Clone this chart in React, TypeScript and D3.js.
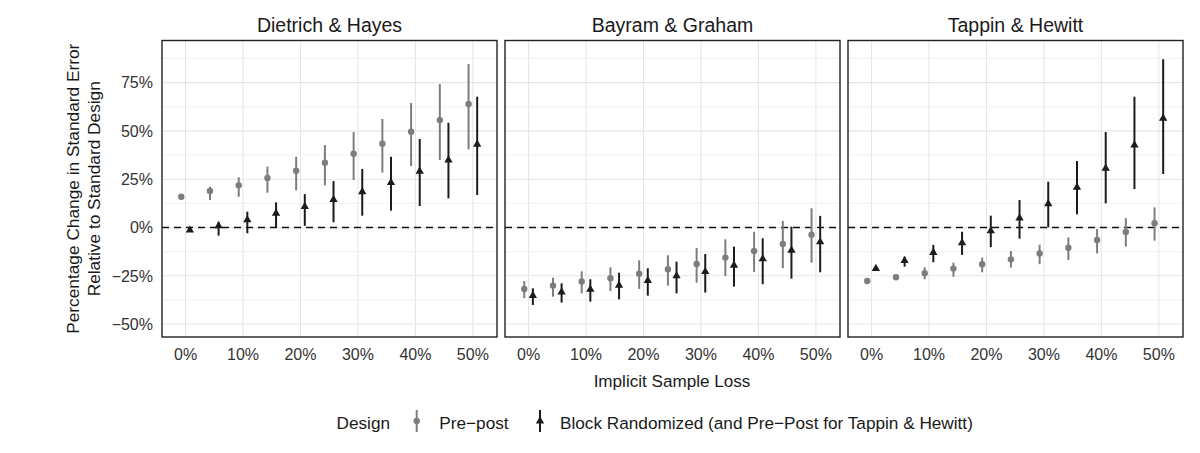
import * as d3 from "d3";

// Implicit sample loss (%), shared by all panels
const losses = [0, 5, 10, 15, 20, 25, 30, 35, 40, 45, 50];
const studies = ["Dietrich & Hayes", "Bayram & Graham", "Tappin & Hewitt"];

// Pre-post design: estimate, lower, upper
const dhPre = [15.9, 18.9, 21.8, 25.6, 29.4, 33.5, 38.2, 43.4, 49.6, 55.6, 63.9];
const dhPreLo = [15.5, 14.2, 15.9, 18, 19.2, 21.8, 24.6, 28.4, 31.8, 34.9, 40.5];
const dhPreHi = [16.3, 21.1, 26, 31.5, 36.6, 42.7, 49.4, 56.2, 64.4, 74.3, 84.6];
const bgPre = [-31.8, -30.1, -28, -26.3, -23.9, -21.6, -18.9, -15.6, -12.2, -8.5, -3.7];
const bgPreLo = [-36.6, -35.8, -34.1, -32.9, -31.8, -30.1, -28.6, -25.1, -23, -21.1, -18.2];
const bgPreHi = [-27.7, -26, -22.7, -20.6, -17, -14.4, -10.6, -6.1, -2.2, 3.4, 9.9];
const thPre = [-27.7, -25.8, -23.7, -21.3, -19, -16.5, -13.4, -10.5, -6.5, -2.3, 2.2];
const thPreLo = [-28.2, -27, -26.8, -25.5, -23.2, -20.8, -19, -16.8, -13.4, -9.9, -6.8];
const thPreHi = [-27.2, -24.5, -20.6, -18.2, -15.6, -12.2, -8.9, -5.1, -0.8, 4.8, 10.4];

// Block randomized design: estimate, lower, upper
const dhBlock = [-1.4, 0.8, 3.9, 7.3, 10.8, 14.4, 18.5, 23.2, 29.1, 34.9, 43];
const dhBlockLo = [-1.8, -4.2, -3, 0.1, 0.8, 2.7, 6.1, 8.7, 11.1, 15.1, 16.8];
const dhBlockHi = [-1.0, 3, 8.2, 13, 17.3, 24, 30.3, 36.6, 45.8, 54.2, 67.7];
const bgBlock = [-35.3, -33.4, -32, -29.9, -27.5, -25.1, -22.9, -19.6, -16.3, -11.8, -7.5];
const bgBlockLo = [-40.1, -38.9, -38.4, -37.2, -35.3, -34.1, -33.7, -30.6, -29.4, -26.5, -23.2];
const bgBlockHi = [-31.5, -28.9, -26.8, -23.4, -21.1, -17.7, -13.7, -9.9, -5.6, 0.4, 6];
const thBlock = [-21.3, -17.2, -13, -7.9, -1.8, 4.8, 12.2, 20.8, 30.6, 42.7, 56.5];
const thBlockLo = [-21.6, -20.3, -18, -14.2, -10.2, -5.8, 0.1, 6.8, 12.5, 19.9, 27.7];
const thBlockHi = [-21, -15.1, -9, -2.2, 6.1, 14.2, 23.7, 34.4, 49.4, 67.7, 87.1];

const yTicks = [-50, -25, 0, 25, 50, 75];
const yMinor = [-37.5, -12.5, 12.5, 37.5, 62.5, 87.5];
const xTicks = [0, 10, 20, 30, 40, 50];

const panels = [
  { pre: [dhPre, dhPreLo, dhPreHi], block: [dhBlock, dhBlockLo, dhBlockHi] },
  { pre: [bgPre, bgPreLo, bgPreHi], block: [bgBlock, bgBlockLo, bgBlockHi] },
  { pre: [thPre, thPreLo, thPreHi], block: [thBlock, thBlockLo, thBlockHi] },
];

const FONT = "'Liberation Sans', Arial, Helvetica, sans-serif";
const GREY = "#7d7d7d";
const DARK = "#1c1c1c";

const panelLeft = [162, 505, 848];
const panelW = 335;
const top = 40.5;
const bottom = 337;
const dodge = 0.75;

const y = d3.scaleLinear().domain([-56.7, 96.8]).range([bottom, top]);
const pct = (v: number) => `${v < 0 ? "\u2212" : ""}${Math.abs(v)}%`;
const tri = d3.symbol(d3.symbolTriangle, 30)()!;

function Panel({ idx }: { idx: number }) {
  const x0 = panelLeft[idx];
  const x = d3.scaleLinear().domain([-4.1, 54.2]).range([x0, x0 + panelW]);
  const p = panels[idx];
  return (
    <g>
      <text x={x0 + panelW / 2} y={31.5} textAnchor="middle" fontSize={19.5} fill="#1a1a1a">
        {studies[idx]}
      </text>
      {yMinor.map(v => (
        <line key={"m" + v} x1={x0} x2={x0 + panelW} y1={y(v)} y2={y(v)} stroke="#ececec" strokeWidth={0.7} />
      ))}
      {yTicks.map(v => (
        <line key={"y" + v} x1={x0} x2={x0 + panelW} y1={y(v)} y2={y(v)} stroke="#e6e6e6" strokeWidth={1.1} />
      ))}
      {xTicks.map(v => (
        <line key={"x" + v} x1={x(v)} x2={x(v)} y1={top} y2={bottom} stroke="#e6e6e6" strokeWidth={1.1} />
      ))}
      <line x1={x0} x2={x0 + panelW} y1={y(0)} y2={y(0)} stroke="#111" strokeWidth={1.4} strokeDasharray="7,5" />
      {losses.map((l, i) => (
        <g key={"p" + l}>
          <line x1={x(l - dodge)} x2={x(l - dodge)} y1={y(p.pre[1][i])} y2={y(p.pre[2][i])} stroke={GREY} strokeWidth={2} />
          <circle cx={x(l - dodge)} cy={y(p.pre[0][i])} r={3.2} fill={GREY} />
          <line x1={x(l + dodge)} x2={x(l + dodge)} y1={y(p.block[1][i])} y2={y(p.block[2][i])} stroke={DARK} strokeWidth={2} />
          <path d={tri} transform={`translate(${x(l + dodge)},${y(p.block[0][i])})`} fill={DARK} />
        </g>
      ))}
      <rect x={x0} y={top} width={panelW} height={bottom - top} fill="none" stroke="#222" strokeWidth={1.4} />
      {xTicks.map(v => (
        <text key={"t" + v} x={x(v)} y={360} textAnchor="middle" fontSize={16} fill="#333">
          {v}%
        </text>
      ))}
    </g>
  );
}

export default function App() {
  return (
    <svg
      width={1200}
      height={453}
      style={{ position: "absolute", left: 0, top: 0, background: "#fff" }}
      fontFamily={FONT}
    >
      <rect width={1200} height={453} fill="#fff" />
      {yTicks.map(v => (
        <text key={v} x={153} y={y(v)} dy="0.36em" textAnchor="end" fontSize={16} fill="#333">
          {pct(v)}
        </text>
      ))}
      <g transform={`translate(78.5,${(top + bottom) / 2}) rotate(-90)`}>
        <text textAnchor="middle" fontSize={17.3} fill="#1a1a1a">Percentage Change in Standard Error</text>
        <text y={21} textAnchor="middle" fontSize={17.3} fill="#1a1a1a">Relative to Standard Design</text>
      </g>
      {[0, 1, 2].map(i => (
        <Panel key={i} idx={i} />
      ))}
      <text x={672} y={386.5} textAnchor="middle" fontSize={17.1} fill="#1a1a1a">
        Implicit Sample Loss
      </text>
      {/* legend */}
      <text x={336.5} y={429} fontSize={17.2} fill="#1a1a1a">Design</text>
      <line x1={416.7} x2={416.7} y1={410} y2={432} stroke={GREY} strokeWidth={2} />
      <circle cx={416.7} cy={421} r={3.2} fill={GREY} />
      <text x={439.3} y={429} fontSize={17.2} fill="#1a1a1a">Pre{"\u2212"}post</text>
      <line x1={540} x2={540} y1={410} y2={432} stroke={DARK} strokeWidth={2} />
      <path d={tri} transform="translate(540,421)" fill={DARK} />
      <text x={560} y={429} fontSize={17.2} fill="#1a1a1a">
        Block Randomized (and Pre{"\u2212"}Post for Tappin &amp; Hewitt)
      </text>
    </svg>
  );
}
